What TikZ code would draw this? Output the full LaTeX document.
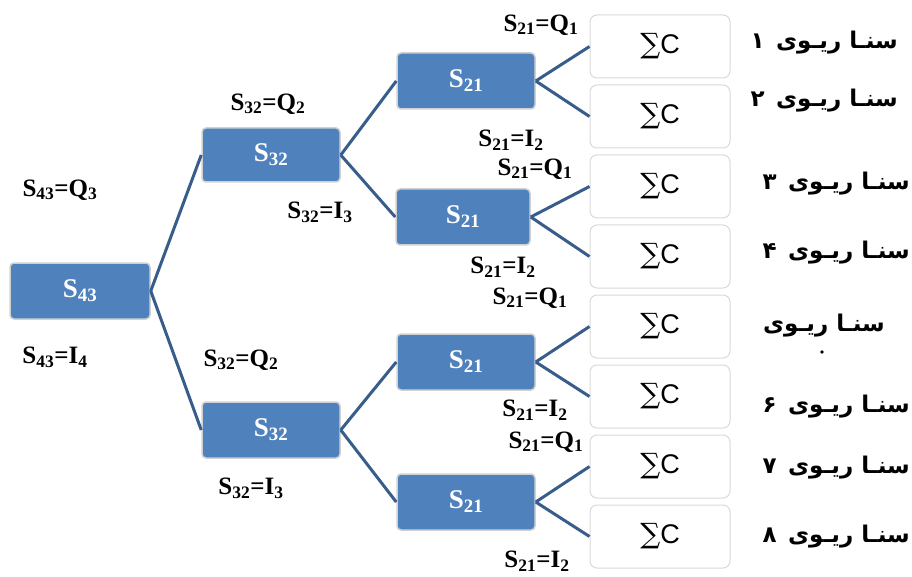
\documentclass[tikz,border=0pt]{standalone}
\usepackage{fontspec}
\setmainfont{Liberation Serif}
\newfontfamily\fa[Script=Arabic]{DejaVu Sans}
\newfontfamily\sumfont{Liberation Sans}
\newfontfamily\sigmafont{DejaVu Serif}
\TeXXeTstate=1
\definecolor{sblue}{HTML}{4F81BD}
\definecolor{lineblue}{HTML}{385D8A}
\begin{document}
\begin{tikzpicture}[x=1pt,y=-1pt,
  sbox/.style={draw=black!18, line width=1.5pt, fill=sblue, rounded corners=4pt,
    minimum width=138pt, minimum height=56pt, text=white, inner sep=0pt,
    font=\fontsize{27}{27}\selectfont\bfseries},
  cbox/.style={draw=black!15, line width=1pt, fill=white, rounded corners=7pt,
    minimum width=140pt, minimum height=63pt, inner sep=0pt,
    font=\sumfont\fontsize{27}{27}\selectfont},
  lab/.style={font=\fontsize{25}{25}\selectfont\bfseries, fill=white, inner xsep=2pt, inner ysep=3pt},
  scen/.style={font=\fa\fontsize{23}{23}\selectfont\bfseries, anchor=east, inner sep=0pt},
  conn/.style={draw=lineblue, line width=3pt}]
\useasboundingbox (0,0) rectangle (912,577);

% decision boxes
\node[sbox, minimum width=140pt] (s43) at (80,291) {S\textsubscript{43}};
\node[sbox, minimum height=54pt] (s32a) at (271,155) {S\textsubscript{32}};
\node[sbox] (s32b) at (271,430) {S\textsubscript{32}};
\node[sbox] (s21a) at (466,81) {S\textsubscript{21}};
\node[sbox, minimum width=134pt] (s21b) at (463,217) {S\textsubscript{21}};
\node[sbox] (s21c) at (466,362) {S\textsubscript{21}};
\node[sbox] (s21d) at (466,502) {S\textsubscript{21}};

% cost boxes
\foreach \i in {1,...,8}{
  \node[cbox] (c\i) at (660,{46.5+70*(\i-1)}) {{\sigmafont\fontsize{28}{28}\selectfont ∑}C};
}

% connectors
\draw[conn] (s43.east) -- (s32a.west);
\draw[conn] (s43.east) -- (s32b.west);
\draw[conn] (s32a.east) -- (s21a.west);
\draw[conn] (s32a.east) -- (s21b.west);
\draw[conn] (s32b.east) -- (s21c.west);
\draw[conn] (s32b.east) -- (s21d.west);
\draw[conn] (s21a.east) -- (c1.west);
\draw[conn] (s21a.east) -- (c2.west);
\draw[conn] (s21b.east) -- (c3.west);
\draw[conn] (s21b.east) -- (c4.west);
\draw[conn] (s21c.east) -- (c5.west);
\draw[conn] (s21c.east) -- (c6.west);
\draw[conn] (s21d.east) -- (c7.west);
\draw[conn] (s21d.east) -- (c8.west);

% branch labels
\node[lab] (l1) at (60,190) {S\textsubscript{43}=Q\textsubscript{3}};
\node[lab] (l2) at (55,357) {S\textsubscript{43}=I\textsubscript{4}};
\node[lab] (l3) at (268,104) {S\textsubscript{32}=Q\textsubscript{2}};
\node[lab] (l4) at (320,212) {S\textsubscript{32}=I\textsubscript{3}};
\node[lab] (l5) at (241,360) {S\textsubscript{32}=Q\textsubscript{2}};
\node[lab] (l6) at (251,488) {S\textsubscript{32}=I\textsubscript{3}};
\node[lab] (l7) at (541,25) {S\textsubscript{21}=Q\textsubscript{1}};
\node[lab] (l8) at (511,140) {S\textsubscript{21}=I\textsubscript{2}};
\node[lab] (l9) at (535,169) {S\textsubscript{21}=Q\textsubscript{1}};
\node[lab] (l10) at (503,267) {S\textsubscript{21}=I\textsubscript{2}};
\node[lab] (l11) at (530,298) {S\textsubscript{21}=Q\textsubscript{1}};
\node[lab] (l12) at (535,410) {S\textsubscript{21}=I\textsubscript{2}};
\node[lab] (l13) at (546,442) {S\textsubscript{21}=Q\textsubscript{1}};
\node[lab] (l14) at (537,561) {S\textsubscript{21}=I\textsubscript{2}};

% scenario labels
\node[scen] (n1) at (898,43) {\beginR سنـا ریـوی\enspace ۱\endR};
\node[scen] (n2) at (898,101) {\beginR سنـا ریـوی\enspace ۲\endR};
\node[scen] (n3) at (910,184) {\beginR سنـا ریـوی\enspace ۳\endR};
\node[scen] (n4) at (910,253) {\beginR سنـا ریـوی\enspace ۴\endR};
\node[scen] (n5) at (885,326) {\beginR سنـا ریـوی\endR};
\fill (822,352) circle (1.8pt);
\node[scen] (n6) at (910,407) {\beginR سنـا ریـوی\enspace ۶\endR};
\node[scen] (n7) at (910,468) {\beginR سنـا ریـوی\enspace ۷\endR};
\node[scen] (n8) at (910,537) {\beginR سنـا ریـوی\enspace ۸\endR};
\end{tikzpicture}
\end{document}
